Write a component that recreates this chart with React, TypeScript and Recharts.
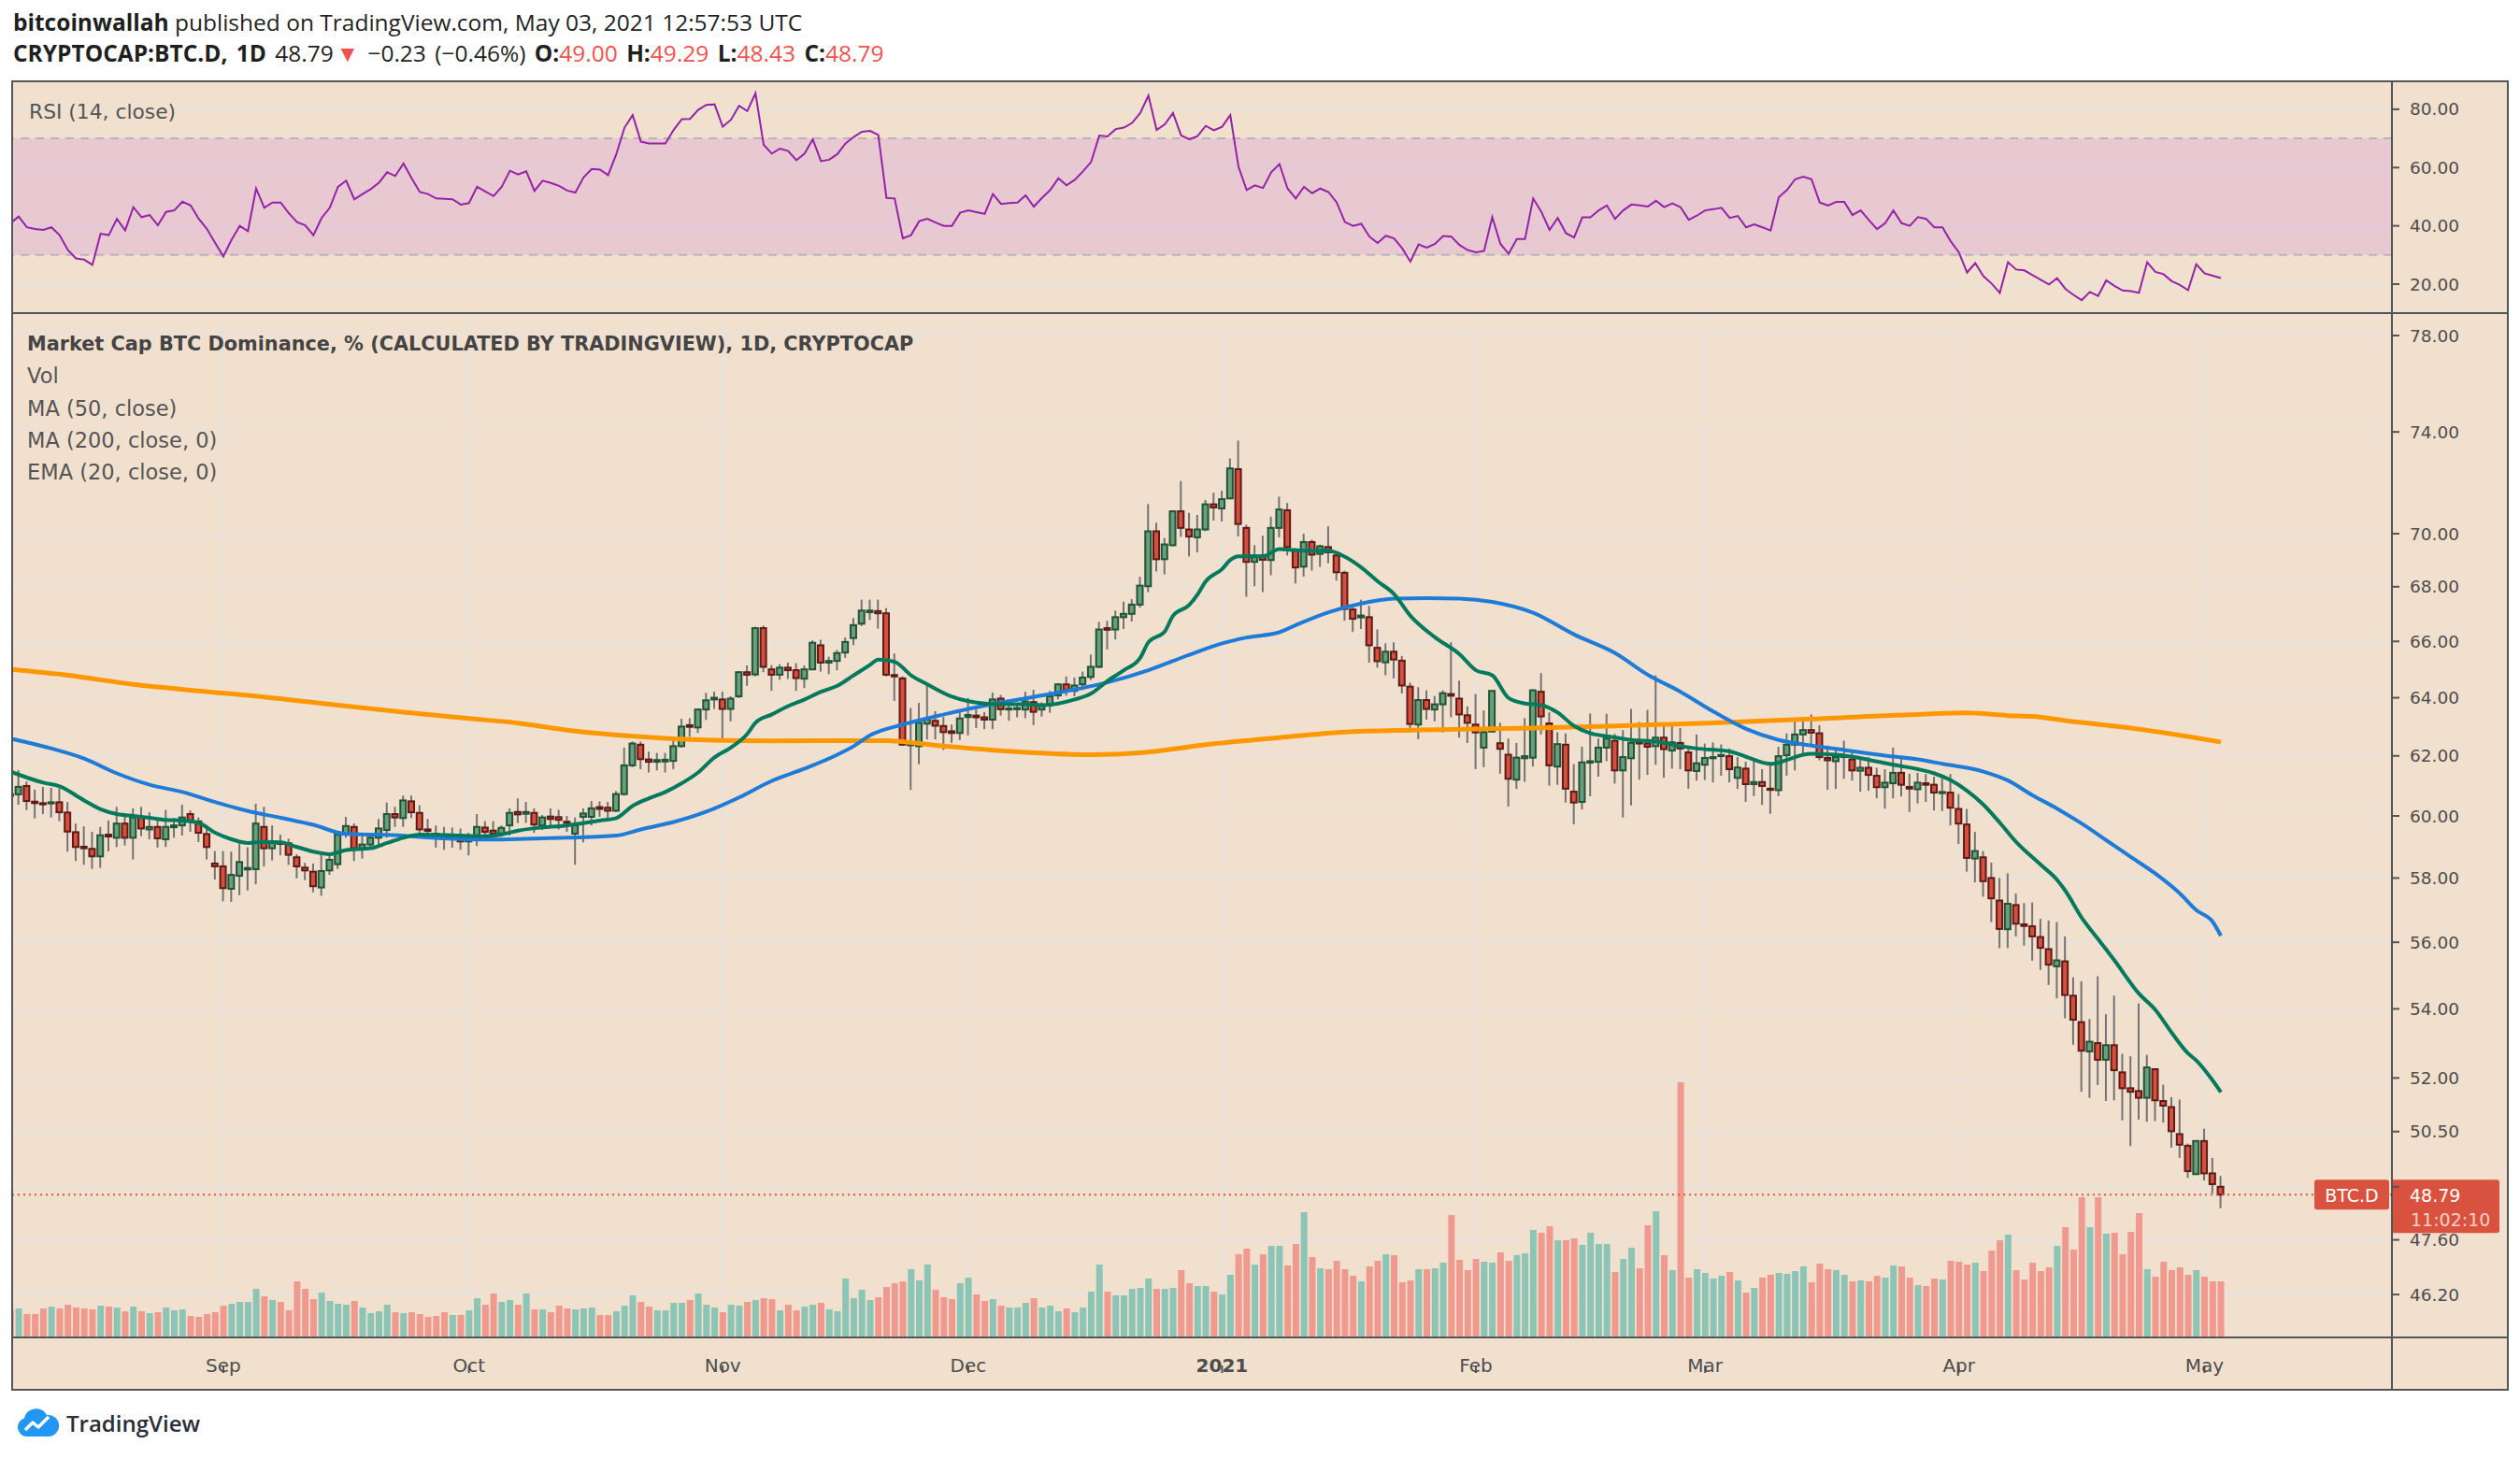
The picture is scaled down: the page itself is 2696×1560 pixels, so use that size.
import React from "react";
import {
  ComposedChart,
  Bar,
  Line,
  XAxis,
  YAxis,
  CartesianGrid,
  ReferenceLine,
  ReferenceArea,
  Cell,
} from "recharts";

const FIRST_DAY = "2020-08-06";

// daily candles from FIRST_DAY: [open, high, low, close]
const candles: [number, number, number, number][] = [
  [60.72, 60.9, 60.5, 60.66], [60.71, 61.52, 60.37, 60.96], [60.99, 61.14, 60.19, 60.49], [60.47, 60.87, 59.92, 60.42],
  [60.42, 60.96, 60.06, 60.38], [60.41, 60.93, 59.95, 60.45], [60.45, 60.91, 59.83, 60.12], [60.11, 60.46, 58.84, 59.49],
  [59.47, 59.75, 58.54, 58.99], [59.0, 59.66, 58.42, 58.95], [58.93, 59.48, 58.29, 58.69], [58.69, 59.64, 58.32, 59.37],
  [59.39, 59.85, 58.85, 59.33], [59.29, 60.3, 58.99, 59.75], [59.75, 60.0, 59.04, 59.29], [59.29, 60.25, 58.59, 59.95],
  [59.95, 60.3, 59.34, 59.59], [59.56, 60.12, 59.24, 59.64], [59.64, 59.93, 58.97, 59.27], [59.24, 60.2, 58.99, 59.64],
  [59.63, 59.93, 59.29, 59.69], [59.69, 60.37, 59.36, 59.95], [60.06, 60.18, 59.48, 59.85], [59.82, 59.95, 59.15, 59.45],
  [59.41, 59.64, 58.59, 58.99], [58.46, 58.86, 57.95, 58.37], [58.37, 58.86, 57.27, 57.68], [57.66, 58.84, 57.25, 58.1],
  [58.07, 59.16, 57.46, 58.51], [58.27, 58.98, 57.61, 58.32], [58.28, 60.4, 57.8, 59.75], [59.64, 60.3, 58.37, 58.95],
  [58.95, 59.69, 58.56, 59.14], [59.14, 59.39, 58.72, 59.09], [59.11, 59.26, 58.42, 58.74], [58.66, 58.76, 57.99, 58.37],
  [58.33, 58.48, 57.93, 58.24], [58.2, 58.46, 57.55, 57.74], [57.7, 58.74, 57.44, 58.22], [58.24, 58.76, 58.1, 58.58],
  [58.44, 59.48, 58.29, 59.39], [59.42, 59.97, 59.29, 59.67], [59.64, 59.75, 58.54, 58.95], [58.92, 59.45, 58.62, 59.07],
  [59.07, 59.45, 58.99, 59.29], [59.29, 59.9, 58.99, 59.59], [59.54, 60.44, 59.29, 60.06], [60.06, 60.3, 59.64, 59.95],
  [59.93, 60.67, 59.64, 60.51], [60.48, 60.67, 59.93, 60.12], [60.1, 60.35, 59.29, 59.56], [59.56, 59.9, 59.26, 59.51],
  [59.42, 59.69, 58.97, 59.34], [59.36, 59.64, 58.9, 59.29], [59.26, 59.62, 58.97, 59.32], [59.32, 59.59, 58.9, 59.17],
  [59.17, 59.45, 58.72, 59.22], [59.22, 60.06, 59.02, 59.64], [59.62, 59.83, 59.34, 59.48], [59.52, 59.83, 59.29, 59.42],
  [59.42, 59.69, 59.32, 59.61], [59.69, 60.25, 59.36, 60.1], [60.13, 60.58, 59.77, 60.05], [60.07, 60.46, 59.77, 60.13],
  [60.1, 60.25, 59.45, 59.72], [59.69, 60.03, 59.54, 59.95], [59.98, 60.25, 59.64, 59.9], [59.96, 60.2, 59.56, 59.87],
  [59.81, 60.0, 59.48, 59.78], [59.42, 59.95, 58.42, 59.69], [59.97, 60.25, 59.14, 60.08], [59.97, 60.49, 59.69, 60.25],
  [60.29, 60.48, 59.97, 60.23], [60.27, 60.46, 59.9, 60.17], [60.17, 60.82, 60.13, 60.72], [60.72, 62.28, 60.67, 61.68],
  [61.68, 62.49, 61.62, 62.42], [62.38, 62.49, 61.55, 61.89], [61.88, 62.14, 61.44, 61.8], [61.8, 62.1, 61.51, 61.86],
  [61.81, 62.1, 61.44, 61.87], [61.83, 62.59, 61.55, 62.33], [62.33, 63.27, 62.28, 63.0], [63.05, 63.29, 62.65, 62.99],
  [62.97, 63.63, 62.78, 63.59], [63.59, 64.17, 63.23, 63.91], [63.94, 64.21, 63.61, 64.0], [63.94, 64.21, 62.59, 63.61],
  [63.61, 64.05, 63.18, 63.97], [64.05, 64.94, 63.99, 64.9], [64.9, 65.14, 64.42, 64.81], [64.82, 66.53, 64.75, 66.48],
  [66.48, 66.57, 64.9, 65.09], [65.0, 65.15, 64.24, 64.81], [64.81, 65.18, 64.63, 65.06], [65.06, 65.24, 64.66, 64.97],
  [64.97, 65.22, 64.24, 64.69], [64.67, 65.14, 64.34, 65.0], [65.0, 66.04, 64.97, 65.95], [65.86, 66.06, 64.92, 65.24],
  [65.24, 65.45, 64.83, 65.3], [65.3, 65.69, 64.97, 65.58], [65.6, 66.14, 65.41, 65.98], [66.12, 66.85, 65.86, 66.59],
  [66.64, 67.52, 66.56, 67.12], [67.06, 67.52, 66.78, 67.12], [67.1, 67.52, 66.46, 67.02], [67.02, 67.21, 64.75, 64.81],
  [64.8, 65.56, 63.89, 64.75], [64.68, 64.75, 62.35, 62.38], [62.36, 63.64, 60.86, 62.46], [62.33, 63.82, 61.72, 63.13],
  [63.1, 64.42, 62.56, 63.24], [63.2, 63.53, 62.56, 63.03], [63.02, 63.34, 62.2, 62.81], [62.84, 63.07, 62.44, 62.78],
  [62.78, 63.56, 62.54, 63.28], [63.33, 63.99, 62.7, 63.4], [63.38, 63.59, 62.95, 63.32], [63.32, 63.5, 62.91, 63.24],
  [63.24, 64.18, 62.91, 63.94], [63.97, 64.1, 63.38, 63.6], [63.59, 63.84, 63.2, 63.63], [63.6, 63.82, 63.32, 63.64],
  [63.59, 64.21, 63.29, 63.87], [63.85, 64.28, 63.05, 63.51], [63.59, 63.84, 63.34, 63.74], [63.74, 64.24, 63.48, 64.05],
  [64.08, 64.51, 63.94, 64.47], [64.47, 64.75, 64.07, 64.27], [64.24, 64.71, 64.05, 64.43], [64.47, 64.92, 64.27, 64.71],
  [64.73, 65.53, 64.62, 65.09], [65.09, 66.71, 65.04, 66.43], [66.48, 66.75, 65.71, 66.42], [66.43, 67.12, 66.07, 66.88],
  [66.88, 67.45, 66.45, 67.0], [67.0, 67.54, 66.72, 67.34], [67.34, 68.37, 67.23, 68.04], [68.02, 71.14, 67.8, 70.09],
  [70.09, 70.42, 68.57, 69.03], [69.03, 69.83, 68.46, 69.59], [69.56, 70.9, 69.52, 70.86], [70.86, 72.04, 69.88, 70.22],
  [70.16, 70.8, 69.13, 69.89], [69.86, 70.72, 69.29, 70.16], [70.16, 71.3, 70.1, 71.13], [71.13, 71.58, 70.5, 71.01],
  [70.97, 71.66, 70.47, 71.33], [71.36, 72.94, 71.33, 72.54], [72.51, 73.65, 69.89, 70.37], [70.22, 70.34, 67.63, 68.93],
  [68.93, 69.56, 68.02, 69.17], [69.17, 69.92, 67.8, 69.01], [69.0, 70.65, 68.43, 70.22], [70.22, 71.43, 69.86, 70.93],
  [70.9, 71.18, 69.17, 69.49], [69.35, 69.45, 68.12, 68.72], [68.75, 70.0, 68.38, 69.68], [69.68, 69.77, 68.6, 69.2],
  [69.23, 69.58, 68.74, 69.52], [69.49, 70.28, 68.88, 69.29], [69.17, 69.26, 68.23, 68.54], [68.52, 68.6, 66.75, 67.18],
  [67.16, 67.32, 66.34, 66.82], [66.87, 67.52, 66.45, 66.94], [66.88, 67.29, 65.24, 65.86], [65.77, 66.43, 65.06, 65.29],
  [65.25, 65.93, 64.79, 65.63], [65.63, 65.97, 64.68, 65.35], [65.31, 65.48, 64.15, 64.43], [64.39, 64.53, 62.8, 63.09],
  [63.07, 64.37, 62.57, 63.92], [63.92, 64.26, 63.24, 63.61], [63.59, 64.06, 63.18, 63.77], [63.77, 64.26, 62.8, 64.16],
  [64.13, 65.97, 63.32, 64.07], [63.97, 64.6, 62.62, 63.42], [63.39, 63.7, 62.44, 63.13], [63.07, 64.13, 61.55, 62.8],
  [62.28, 63.56, 61.62, 62.81], [62.83, 64.24, 62.8, 64.24], [62.43, 63.13, 61.4, 62.24], [62.04, 62.59, 60.31, 61.23],
  [61.2, 62.44, 60.89, 61.94], [61.92, 63.29, 61.13, 61.99], [61.94, 64.3, 61.64, 64.26], [64.21, 64.87, 62.73, 63.35],
  [63.11, 63.49, 61.0, 61.68], [61.64, 62.81, 61.03, 62.4], [62.38, 62.77, 60.44, 60.9], [60.8, 61.72, 59.73, 60.44],
  [60.46, 62.31, 60.21, 61.78], [61.77, 63.45, 60.65, 61.82], [61.8, 62.59, 61.3, 62.28], [62.28, 63.44, 61.82, 62.59],
  [62.51, 62.75, 61.07, 61.51], [61.51, 62.88, 59.95, 61.96], [61.92, 63.61, 60.35, 62.44], [62.49, 63.16, 61.2, 62.42],
  [62.42, 63.58, 61.36, 62.31], [62.33, 64.79, 61.7, 62.62], [62.62, 63.05, 61.26, 62.23], [62.18, 63.05, 61.57, 62.46],
  [62.44, 62.95, 61.55, 62.25], [62.12, 62.25, 60.9, 61.51], [61.49, 62.73, 61.17, 61.75], [61.7, 62.42, 61.19, 61.93],
  [61.92, 62.46, 61.11, 61.96], [61.99, 62.39, 61.33, 62.03], [61.99, 62.25, 61.11, 61.55], [61.26, 61.96, 60.89, 61.61],
  [61.57, 61.8, 60.46, 61.05], [61.05, 61.82, 60.65, 61.12], [61.12, 61.55, 60.36, 60.99], [60.9, 61.7, 60.07, 60.86],
  [60.85, 62.31, 60.65, 61.99], [62.02, 62.77, 61.33, 62.38], [62.38, 63.27, 61.51, 62.73], [62.73, 63.29, 62.06, 62.88],
  [62.88, 63.42, 62.38, 62.79], [62.77, 63.05, 61.85, 61.96], [61.93, 62.35, 60.86, 61.85], [61.82, 62.2, 60.89, 61.96],
  [61.96, 62.52, 61.23, 62.01], [61.88, 62.13, 61.17, 61.51], [61.5, 61.99, 60.8, 61.6], [61.6, 61.96, 60.83, 61.36],
  [61.33, 61.6, 60.58, 60.95], [60.95, 61.55, 60.24, 61.1], [61.08, 62.28, 60.58, 61.43], [61.43, 61.99, 60.64, 61.03],
  [60.96, 61.4, 60.13, 60.9], [60.88, 61.43, 60.41, 61.1], [61.08, 61.39, 60.46, 61.03], [61.03, 61.3, 60.18, 60.77],
  [60.75, 61.28, 60.16, 60.79], [60.77, 61.39, 59.69, 60.27], [60.23, 60.72, 59.09, 59.75], [59.72, 60.23, 58.2, 58.64],
  [58.62, 59.48, 57.86, 58.86], [58.66, 58.86, 57.41, 57.9], [58.0, 58.49, 56.62, 57.36], [57.29, 58.0, 55.82, 56.41],
  [56.4, 58.15, 55.82, 57.19], [57.15, 57.51, 56.18, 56.57], [56.55, 57.21, 55.9, 56.5], [56.49, 57.23, 55.44, 56.18],
  [56.16, 56.72, 55.16, 55.83], [55.79, 56.67, 54.71, 55.32], [55.27, 56.62, 54.31, 55.45], [55.42, 56.18, 53.72, 54.41],
  [54.39, 54.94, 52.95, 53.68], [53.61, 54.82, 51.61, 52.78], [52.76, 53.7, 51.44, 53.04], [53.0, 54.97, 51.8, 52.52],
  [52.52, 53.84, 51.35, 52.94], [52.94, 54.39, 51.37, 52.22], [52.16, 52.69, 50.81, 51.71], [51.71, 52.62, 50.1, 51.61],
  [51.63, 54.16, 50.83, 51.44], [51.44, 52.66, 50.77, 52.3], [52.25, 52.25, 50.79, 51.37], [51.35, 51.81, 50.75, 51.22],
  [51.18, 51.46, 50.06, 50.51], [50.43, 51.39, 49.78, 50.14], [50.11, 50.17, 49.24, 49.42], [49.34, 50.24, 49.34, 50.24],
  [50.24, 50.58, 49.17, 49.36], [49.36, 49.78, 48.82, 49.07], [49.0, 49.29, 48.43, 48.79],
];

// volume per candle (arbitrary units, as drawn)
const volumes: number[] = [
  2.9, 3.1, 2.5, 2.5, 3.1, 3.3, 3.1, 3.5, 3.2, 3.1, 3.0, 3.4, 3.3, 3.2, 2.8, 3.3, 2.8, 2.6, 2.7, 3.2,
  2.9, 3.0, 2.3, 2.2, 2.5, 2.7, 3.4, 3.6, 3.8, 3.8, 5.2, 4.4, 4.0, 3.8, 2.9, 6.0, 5.2, 4.1, 4.8, 3.9,
  3.6, 3.5, 3.9, 3.2, 2.6, 2.8, 3.5, 2.7, 2.6, 2.7, 2.5, 2.2, 2.3, 2.7, 2.4, 2.4, 2.9, 4.2, 3.5, 4.7,
  3.8, 4.0, 3.5, 4.7, 3.0, 3.0, 2.7, 3.4, 3.1, 3.0, 3.1, 3.2, 2.4, 2.4, 2.8, 3.4, 4.5, 3.8, 3.3, 2.9,
  2.9, 3.7, 3.7, 4.0, 4.7, 3.5, 3.2, 2.7, 3.5, 3.4, 3.8, 4.0, 4.2, 4.1, 2.9, 3.5, 2.9, 3.3, 3.5, 3.7,
  3.0, 2.8, 6.3, 4.2, 5.1, 4.0, 4.3, 5.4, 5.8, 6.0, 7.3, 6.1, 7.8, 5.1, 4.3, 4.1, 5.8, 6.4, 4.6, 3.9,
  4.1, 3.4, 3.2, 3.2, 3.7, 4.2, 3.2, 3.4, 2.8, 3.1, 2.7, 3.2, 4.9, 7.8, 4.9, 4.5, 4.5, 5.2, 5.3, 6.3,
  5.2, 5.2, 5.3, 7.2, 5.8, 5.5, 5.5, 4.9, 4.6, 6.7, 8.9, 9.5, 7.8, 8.9, 9.8, 9.8, 7.7, 10.0, 13.4, 8.6,
  7.4, 7.3, 8.2, 7.3, 6.6, 6.0, 7.6, 8.2, 8.9, 8.8, 5.9, 6.1, 7.3, 7.3, 7.4, 8.0, 13.1, 8.3, 7.2, 8.4,
  8.1, 8.0, 9.1, 8.2, 8.8, 9.0, 11.5, 11.2, 11.9, 10.4, 10.4, 10.6, 9.9, 11.2, 10.0, 10.0, 7.0, 8.4, 9.6, 7.4,
  12.0, 13.5, 8.8, 7.2, 27.3, 6.4, 7.3, 6.9, 6.3, 6.6, 7.0, 6.1, 4.8, 5.3, 6.4, 6.7, 6.9, 6.8, 7.1, 7.6,
  5.9, 7.9, 7.3, 7.2, 6.7, 6.0, 6.1, 6.0, 6.6, 6.4, 7.7, 7.6, 6.4, 5.6, 5.5, 6.3, 6.2, 8.2, 8.1, 7.8,
  8.0, 7.1, 9.3, 10.4, 11.0, 7.2, 6.2, 8.0, 7.1, 7.5, 9.8, 11.8, 9.4, 15.0, 11.8, 15.0, 11.1, 11.2, 8.9, 11.3,
  13.3, 7.3, 6.5, 8.1, 7.2, 7.5, 6.7, 7.2, 6.5, 6.0, 6.0,
];

// RSI (14, close), one value per candle
const rsi14: number[] = [
  40.9, 43.2, 39.5, 38.9, 38.6, 39.5, 36.8, 31.7, 28.8, 28.4, 26.6, 37.3, 36.8, 42.4, 38.4, 46.4, 43.0, 43.7, 40.2, 44.8,
  45.3, 48.3, 47.0, 42.4, 38.9, 34.1, 29.5, 35.2, 40.0, 38.2, 52.8, 46.2, 48.0, 48.0, 44.3, 41.3, 40.2, 36.8, 42.7, 46.2,
  53.4, 55.5, 49.1, 50.9, 52.6, 54.8, 58.4, 57.1, 61.4, 56.3, 51.6, 50.9, 49.4, 49.3, 49.1, 47.3, 47.8, 53.4, 51.8, 50.2,
  53.4, 58.9, 57.6, 58.7, 52.0, 55.5, 54.7, 53.7, 52.1, 51.4, 56.6, 59.5, 59.3, 57.4, 64.6, 73.7, 78.0, 68.9, 68.3, 68.3,
  68.3, 72.9, 76.6, 76.7, 79.8, 81.5, 81.7, 74.0, 76.4, 81.2, 79.4, 85.5, 67.8, 64.8, 66.5, 65.7, 62.5, 64.8, 69.7, 62.2,
  62.7, 64.6, 68.3, 70.5, 72.3, 72.6, 71.2, 49.6, 49.4, 35.7, 36.8, 41.6, 42.4, 41.1, 40.0, 40.0, 44.5, 45.3, 44.7, 44.1,
  50.9, 47.5, 47.8, 48.0, 50.5, 46.6, 49.6, 52.3, 56.3, 53.9, 55.8, 58.7, 61.9, 71.0, 70.7, 73.2, 73.7, 75.3, 78.7, 84.7,
  72.9, 74.8, 78.7, 71.0, 69.7, 70.8, 74.3, 72.8, 74.0, 78.0, 60.3, 52.3, 53.9, 53.0, 58.4, 61.2, 52.8, 49.4, 53.4, 51.2,
  52.8, 51.6, 48.0, 41.3, 40.0, 40.7, 36.3, 34.1, 36.6, 35.7, 32.3, 27.7, 33.6, 32.5, 33.8, 36.5, 36.3, 33.4, 31.7, 30.9,
  31.4, 43.0, 33.8, 30.4, 35.5, 35.5, 49.4, 44.8, 38.6, 42.7, 37.5, 36.0, 42.9, 42.9, 45.3, 47.0, 42.4, 45.3, 47.3, 47.0,
  46.6, 48.6, 46.4, 47.7, 46.4, 42.1, 43.5, 45.3, 45.7, 46.2, 42.7, 43.4, 39.5, 40.5, 39.5, 38.4, 49.8, 52.3, 56.0, 56.9,
  56.0, 48.0, 47.0, 48.2, 48.2, 43.7, 45.3, 42.0, 38.9, 40.9, 45.3, 40.9, 40.0, 43.0, 42.4, 39.5, 39.5, 34.7, 30.9, 24.0,
  27.2, 22.7, 20.2, 17.0, 27.5, 25.0, 24.7, 23.1, 21.5, 19.9, 22.0, 18.4, 16.3, 14.5, 17.3, 15.9, 21.3, 19.4, 17.8, 17.6,
  17.0, 27.5, 24.2, 23.4, 21.0, 19.7, 17.9, 26.8, 23.7, 22.9, 22.1,
];

// moving averages: [candle index, value]
const ema20: [number, number][] = [
  [0, 61.47], [4, 61.1], [6, 60.98], [9, 60.51], [11, 60.22], [13, 60.06], [15, 60.0], [17, 59.94], [19, 59.87],
  [21, 59.85], [23, 59.77], [25, 59.45], [27, 59.24], [29, 59.12], [31, 59.16], [33, 59.14], [35, 58.99], [37, 58.84],
  [39, 58.76], [41, 58.89], [44, 58.95], [46, 59.12], [48, 59.29], [50, 59.39], [54, 59.37], [58, 59.34], [60, 59.4],
  [62, 59.52], [64, 59.6], [68, 59.69], [72, 59.85], [74, 59.93], [76, 60.33], [78, 60.58], [80, 60.79], [82, 61.08],
  [84, 61.44], [86, 61.95], [88, 62.28], [90, 62.75], [91, 63.13], [93, 63.42], [95, 63.71], [97, 63.94], [99, 64.21],
  [101, 64.42], [103, 64.79], [105, 65.16], [106, 65.35], [108, 65.27], [110, 64.79], [112, 64.47], [115, 64.04],
  [117, 63.88], [119, 63.8], [122, 63.77], [124, 63.77], [126, 63.74], [130, 63.94], [132, 64.15], [134, 64.59],
  [136, 64.97], [138, 65.41], [139, 65.97], [141, 66.36], [142, 66.93], [144, 67.33], [145, 67.71], [146, 68.2],
  [148, 68.66], [149, 69.0], [150, 69.14], [153, 69.14], [155, 69.41], [157, 69.37], [159, 69.35], [161, 69.35],
  [163, 69.12], [165, 68.72], [167, 68.2], [169, 67.73], [171, 66.93], [174, 66.15], [177, 65.54], [179, 64.97],
  [181, 64.79], [183, 63.99], [185, 63.8], [187, 63.74], [189, 63.48], [191, 63.02], [193, 62.77], [195, 62.67],
  [198, 62.54], [201, 62.49], [204, 62.33], [206, 62.25], [210, 62.15], [212, 61.97], [215, 61.73], [217, 61.86],
  [219, 62.04], [220, 62.07], [223, 62.04], [225, 61.97], [228, 61.81], [230, 61.7], [233, 61.55], [235, 61.41],
  [237, 61.18], [239, 60.83], [241, 60.37], [243, 59.78], [245, 59.15], [248, 58.42], [250, 57.94], [251, 57.6],
  [253, 56.76], [255, 56.1], [257, 55.45], [260, 54.45], [262, 53.97], [264, 53.3], [266, 52.7], [267, 52.5],
  [269, 51.93], [270, 51.6],
];

const ma50: [number, number][] = [
  [0, 62.59], [5, 62.25], [9, 61.91], [13, 61.41], [17, 61.03], [21, 60.79], [25, 60.46], [29, 60.16], [33, 59.94],
  [37, 59.71], [41, 59.41], [46, 59.38], [52, 59.28], [58, 59.23], [62, 59.25], [68, 59.29], [74, 59.36], [77, 59.56],
  [81, 59.8], [85, 60.14], [89, 60.61], [93, 61.16], [97, 61.57], [101, 62.04], [103, 62.33], [105, 62.7], [109, 63.07],
  [113, 63.35], [117, 63.61], [122, 63.88], [128, 64.18], [134, 64.54], [139, 64.97], [144, 65.52], [148, 65.93],
  [151, 66.14], [155, 66.33], [157, 66.59], [161, 67.06], [165, 67.38], [169, 67.56], [173, 67.58], [177, 67.56],
  [181, 67.44], [186, 67.04], [191, 66.25], [196, 65.58], [200, 64.81], [204, 64.21], [208, 63.52], [212, 62.92],
  [216, 62.54], [220, 62.35], [224, 62.2], [229, 62.01], [233, 61.88], [236, 61.73], [241, 61.47], [244, 61.17],
  [247, 60.68], [250, 60.24], [253, 59.75], [256, 59.21], [259, 58.67], [262, 58.14], [265, 57.51], [267, 56.99],
  [269, 56.63], [270, 56.2],
];

const ma200: [number, number][] = [
  [0, 65.0], [7, 64.79], [15, 64.47], [23, 64.24], [31, 64.03], [40, 63.74], [48, 63.5], [56, 63.28], [62, 63.12],
  [68, 62.88], [77, 62.65], [85, 62.54], [93, 62.51], [101, 62.52], [107, 62.52], [113, 62.36], [124, 62.12],
  [132, 62.04], [138, 62.1], [146, 62.38], [155, 62.62], [163, 62.81], [171, 62.88], [179, 62.92], [186, 62.95],
  [196, 63.02], [208, 63.13], [220, 63.26], [233, 63.42], [239, 63.47], [244, 63.38], [247, 63.35], [251, 63.21],
  [259, 62.95], [267, 62.61], [270, 62.47],
];

const monthStarts = ["2020-09-01", "2020-10-01", "2020-11-01", "2020-12-01", "2021-01-01", "2021-02-01", "2021-03-01", "2021-04-01", "2021-05-01"];
const monthLabels = ["Sep", "Oct", "Nov", "Dec", "2021", "Feb", "Mar", "Apr", "May"];
const priceTicks = [46.2, 47.6, 49, 50.5, 52, 54, 56, 58, 60, 62, 64, 66, 68, 70, 74, 78];
const hiddenPriceTicks = [49];
const rsiTicks = [20, 40, 60, 80];
const lastPrice = 48.79;
const countdown = "11:02:10";

const BG = "#f2e0ce";
const GRID = "#e6e2de";
const FRAME = "#555555";
const AXIS_TEXT = "#4d4d4d";
const UP_FILL = "#6a9e7c";
const UP_EDGE = "#1f5536";
const DOWN_FILL = "#d5503e";
const DOWN_EDGE = "#5e1a16";
const WICK = "#737373";
const VOL_UP = "#8cc4b5";
const VOL_DOWN = "#f09a8f";
const TAG = "#d9523f";
const FONT = "'DejaVu Sans', sans-serif";

const X_DOMAIN: [number, number] = [0.2, 290.9];
const CHART_W = 2670;

const dayIndex = (d: string) => Math.round((Date.parse(d) - Date.parse(FIRST_DAY)) / 86400000);
const monthIdx = monthStarts.map(dayIndex);

type Row = {
  i: number; o: number; h: number; l: number; c: number; range: [number, number];
  vol: number; up: boolean; rsi: number; ema?: number; ma50?: number; ma200?: number;
};

const rows: Row[] = candles.map(([o, h, l, c], i) => ({
  i, o, h, l, c, range: [l, h], vol: volumes[i], up: c >= o, rsi: rsi14[i],
}));
ema20.forEach(([i, v]) => (rows[i].ema = v));
ma50.forEach(([i, v]) => (rows[i].ma50 = v));
ma200.forEach(([i, v]) => (rows[i].ma200 = v));

function Candle(props: any) {
  const { x, y, width, height, payload } = props;
  if (!payload || x == null || y == null) return <g />;
  const { o, h, l, c } = payload as Row;
  const top = Math.min(y, y + height);
  const bottom = Math.max(y, y + height);
  const lh = Math.log(h);
  const ll = Math.log(l);
  const toY = (v: number) => top + ((bottom - top) * (lh - Math.log(v))) / (lh - ll || 1);
  const cx = x + width / 2;
  const up = c >= o;
  const bTop = toY(Math.max(o, c));
  const bBot = toY(Math.min(o, c));
  return (
    <g>
      <line x1={cx} x2={cx} y1={top} y2={bottom} stroke={WICK} strokeWidth={2} />
      <rect
        x={cx - 3}
        y={bTop}
        width={6}
        height={Math.max(bBot - bTop, 1.2)}
        fill={up ? UP_FILL : DOWN_FILL}
        stroke={up ? UP_EDGE : DOWN_EDGE}
        strokeWidth={2}
      />
    </g>
  );
}

function MonthTick(props: any) {
  const { x, y, payload } = props;
  const k = monthIdx.indexOf(payload.value);
  const label = monthLabels[k] ?? "";
  return (
    <text x={x} y={y - 10} textAnchor="middle" dominantBaseline="central" fontFamily={FONT} fontSize={20}
      fontWeight={label === "2021" ? 700 : 400} fill={AXIS_TEXT}>
      {label}
    </text>
  );
}

function PriceTag(props: any) {
  const vb = props.viewBox;
  if (!vb) return null;
  const right = vb.x + vb.width;
  const y = vb.y;
  return (
    <g>
      <rect x={right - 83} y={y - 16} width={80} height={32} rx={3} fill={TAG} />
      <text x={right - 43} y={y + 1} textAnchor="middle" dominantBaseline="central" fill="#ffffff" fontFamily={FONT} fontSize={19}>
        BTC.D
      </text>
      <rect x={right - 1} y={y - 16} width={116} height={57} rx={3} fill={TAG} />
      <text x={right + 19} y={y + 1} dominantBaseline="central" fill="#ffffff" fontFamily={FONT} fontSize={19}>
        {lastPrice.toFixed(2)}
      </text>
      <text x={right + 20} y={y + 27} dominantBaseline="central" fill="#f7cfc6" fontFamily={FONT} fontSize={19}>
        {countdown}
      </text>
    </g>
  );
}

const tickStyle = { fill: AXIS_TEXT, fontSize: 18.5, fontFamily: FONT };

function Frame() {
  const line = (left: number, top: number, width: number, height: number) => (
    <div style={{ position: "absolute", left, top, width, height, background: FRAME }} />
  );
  return (
    <>
      {line(12, 86, 2672, 2)}
      {line(12, 334, 2672, 2)}
      {line(12, 1430, 2672, 2)}
      {line(12, 1486, 2672, 2)}
      {line(12, 86, 2, 1402)}
      {line(2682, 86, 2, 1402)}
      {line(2558, 86, 2, 1402)}
    </>
  );
}

function Logo() {
  return (
    <div style={{ position: "absolute", left: 17, top: 1504, display: "flex", alignItems: "center", gap: 8 }}>
      <svg width={46} height={36} viewBox="0 0 46 36">
        <path d="M11 33 A10 10 0 0 1 9 13.5 A13 13 0 0 1 33 10 A10.5 10.5 0 0 1 36 33 Z" fill="#2196f3" />
        <polyline points="10,26 18,18 24,23 35,12" fill="none" stroke="#ffffff" strokeWidth={3.5} strokeLinejoin="round" />
      </svg>
      <span style={{ fontFamily: "'Open Sans', sans-serif", fontSize: 24, fontWeight: 600, color: "#2a2e39" }}>TradingView</span>
    </div>
  );
}

export default function App() {
  const red = "#ef5350";
  const header = { position: "absolute" as const, left: 14, fontFamily: "'Open Sans', sans-serif", fontSize: 24.5, lineHeight: "32px", color: "#1f1f1f", whiteSpace: "nowrap" as const };
  return (
    <div style={{ position: "relative", width: 2696, height: 1560, background: "#ffffff", overflow: "hidden" }}>
      <style>{"body{margin:0}"}</style>
      <div style={{ ...header, top: 8 }}>
        <b>bitcoinwallah</b> published on TradingView.com, May 03, 2021 12:57:53 UTC
      </div>
      <div style={{ ...header, top: 41, wordSpacing: 3 }}>
        <b>CRYPTOCAP:BTC.D, 1D</b> 48.79<span style={{ color: red, marginLeft: 3 }}>▼</span> −0.23 (−0.46%) <b>O:</b>
        <span style={{ color: red }}>49.00</span> <b>H:</b><span style={{ color: red }}>49.29</span> <b>L:</b>
        <span style={{ color: red }}>48.43</span> <b>C:</b><span style={{ color: red }}>48.79</span>
      </div>

      <div style={{ position: "absolute", left: 13, top: 87, width: 2670, height: 1400, background: BG }} />

      <div style={{ position: "absolute", left: 13, top: 87 }}>
        <ComposedChart width={CHART_W} height={249} data={rows} margin={{ top: 0, right: 0, bottom: 0, left: 0 }}>
          <CartesianGrid stroke={GRID} strokeWidth={2} />
          <XAxis dataKey="i" type="number" domain={X_DOMAIN} allowDataOverflow ticks={monthIdx} height={0}
            tick={false} axisLine={false} tickLine={false} />
          <YAxis orientation="right" domain={[9.73, 89.6]} allowDataOverflow ticks={rsiTicks} width={124}
            tickFormatter={(v: number) => v.toFixed(2)} tick={tickStyle} tickSize={8} tickMargin={11}
            axisLine={false} tickLine={{ stroke: FRAME, strokeWidth: 2 }} />
          <ReferenceArea y1={30} y2={70} fill="#c060e0" fillOpacity={0.19} stroke="none" />
          <ReferenceLine y={70} stroke="#b8b2bd" strokeDasharray="9 7" strokeWidth={2} />
          <ReferenceLine y={30} stroke="#b8b2bd" strokeDasharray="9 7" strokeWidth={2} />
          <Line dataKey="rsi" type="linear" stroke="#9423a8" strokeWidth={2} dot={false} isAnimationActive={false} />
        </ComposedChart>
      </div>

      <div style={{ position: "absolute", left: 13, top: 336 }}>
        <ComposedChart width={CHART_W} height={1151} data={rows} margin={{ top: 0, right: 0, bottom: 0, left: 0 }}>
          <CartesianGrid stroke={GRID} strokeWidth={2} xAxisId="x" yAxisId="p" />
          <XAxis xAxisId="x" dataKey="i" type="number" domain={X_DOMAIN} allowDataOverflow ticks={monthIdx}
            height={56} tick={<MonthTick />} tickSize={8} axisLine={false} tickLine={{ stroke: FRAME, strokeWidth: 2 }} />
          <XAxis xAxisId="vx" dataKey="i" type="number" domain={X_DOMAIN} allowDataOverflow hide />
          <YAxis yAxisId="p" orientation="right" scale="log" domain={[45.13, 78.92]} allowDataOverflow ticks={priceTicks}
            width={124} tickFormatter={(v: number) => (hiddenPriceTicks.includes(v) ? "" : v.toFixed(2))} tick={tickStyle}
            tickSize={8} tickMargin={11} axisLine={false} tickLine={{ stroke: FRAME, strokeWidth: 2 }} />
          <YAxis yAxisId="vy" domain={[0, 109.5]} hide />
          <Bar xAxisId="vx" yAxisId="vy" dataKey="vol" barSize={7} isAnimationActive={false}>
            {rows.map((r) => (
              <Cell key={r.i} fill={r.up ? VOL_UP : VOL_DOWN} />
            ))}
          </Bar>
          <Line xAxisId="x" yAxisId="p" dataKey="ma200" type="monotone" stroke="#ff9800" strokeWidth={5} dot={false}
            connectNulls isAnimationActive={false} />
          <Line xAxisId="x" yAxisId="p" dataKey="ma50" type="monotone" stroke="#1e7bd7" strokeWidth={4} dot={false}
            connectNulls isAnimationActive={false} />
          <Line xAxisId="x" yAxisId="p" dataKey="ema" type="monotone" stroke="#00795c" strokeWidth={4} dot={false}
            connectNulls isAnimationActive={false} />
          <Bar xAxisId="x" yAxisId="p" dataKey="range" barSize={8} shape={<Candle />} isAnimationActive={false} />
          <ReferenceLine xAxisId="x" yAxisId="p" y={lastPrice} stroke="#e0553f" strokeDasharray="2 4" strokeWidth={2}
            label={<PriceTag />} />
        </ComposedChart>
      </div>

      <div style={{ position: "absolute", left: 31, top: 107, fontFamily: FONT, fontSize: 21.8, color: "#555555", whiteSpace: "nowrap" }}>
        RSI (14, close)
      </div>
      <div style={{ position: "absolute", left: 29, top: 351, fontFamily: FONT, fontSize: 22.5, lineHeight: "34.3px", color: "#555555", whiteSpace: "nowrap" }}>
        <div style={{ fontWeight: 700, fontSize: 20.8, color: "#444444" }}>Market Cap BTC Dominance, % (CALCULATED BY TRADINGVIEW), 1D, CRYPTOCAP</div>
        <div>Vol</div>
        <div>MA (50, close)</div>
        <div>MA (200, close, 0)</div>
        <div>EMA (20, close, 0)</div>
      </div>

      <Frame />
      <Logo />
    </div>
  );
}
